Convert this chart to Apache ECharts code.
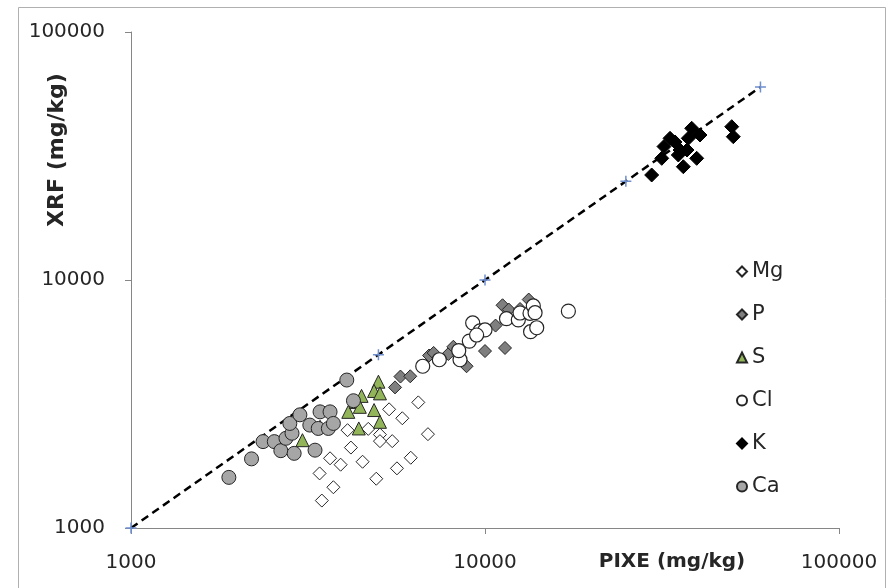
<!DOCTYPE html>
<html>
<head>
<meta charset="utf-8">
<script src="https://cdn.jsdelivr.net/npm/echarts@6/dist/echarts.min.js"></script>
<style>html,body{margin:0;padding:0;background:#fff}#c{width:893px;height:588px}</style>
</head>
<body>
<div id="c"></div>
<script>
// [PIXE, XRF] in mg/kg
const mgData = [[3460,1290],[3730,1460],[3410,1660],[3650,1910],[3910,1800],[4180,2110],[4510,1850],[4090,2480],[4680,2510],[5050,2380],[5050,2240],[5470,2240],[4930,1580],[5360,3010],[5840,2770],[5640,1740],[6170,1920],[6480,3210],[6900,2390]];
const pData = [[5570,3690],[5770,4080],[6150,4090],[6950,4960],[7160,5080],[7880,5030],[8140,5380],[8870,4490],[10000,5170],[11390,5320],[10710,6550],[11210,7910],[11670,7600],[13290,8340],[12560,7640]];
const sData = [[3050,2260],[3420,2560],[4110,2940],[4320,3220],[4480,3410],[4430,3080],[4400,2520],[4860,2990],[5050,2680],[5000,3890],[4860,3570],[5050,3490]];
const clData = [[6670,4490],[7430,4770],[8500,4770],[8430,5190],[9030,5670],[9230,6710],[9680,6230],[10000,6290],[9470,6000],[11500,6980],[12420,6900],[12560,7360],[13400,7340],[13690,7860],[13850,7380],[13450,6190],[14000,6420],[17200,7490]];
const kData = [[29570,26510],[31570,30950],[32040,34530],[33320,37270],[34420,36020],[35550,33430],[36330,28630],[37210,33430],[38360,40900],[39630,30950],[40490,38430],[49770,41510],[50280,37830],[35160,31920],[37520,37270]];
const caData = [[1890,1600],[2190,1900],[2360,2230],[2540,2230],[2650,2050],[2740,2300],[2850,2410],[2890,2000],[2810,2640],[3000,2860],[3200,2600],[3310,2060],[3420,2940],[3650,2940],[3380,2520],[3610,2520],[3730,2640],[4070,3950],[4250,3260]];
const lineData = [[1000,1000],[5000,5000],[10000,10000],[25000,25000],[60000,60000]];
const seriesNames = ['Mg','P','S','Cl','K','Ca'];
const axisMin = 1000, axisMax = 100000;

const chart = echarts.init(document.getElementById('c'));
const outline = '#262626';
const fmt = v => String(Math.round(v));
const lab = {fontFamily:'DejaVu Sans', fontSize:20, color:'#262626', formatter:fmt};
chart.setOption({
  animation:false,
  backgroundColor:'#fff',
  grid:{left:131,right:54,top:32,bottom:60,containLabel:false},
  xAxis:{type:'log',logBase:10,min:axisMin,max:axisMax,
    axisLine:{show:true,lineStyle:{color:'#868686',width:1}},
    axisTick:{show:true,inside:false,length:6,lineStyle:{color:'#868686'}},
    minorTick:{show:false},
    splitLine:{show:false},
    axisLabel:Object.assign({margin:25},lab)},
  yAxis:{type:'log',logBase:10,min:axisMin,max:axisMax,
    axisLine:{show:true,lineStyle:{color:'#868686',width:1}},
    axisTick:{show:true,inside:false,length:6,lineStyle:{color:'#868686'}},
    splitLine:{show:false},
    axisLabel:Object.assign({margin:26},lab)},
  legend:{orient:'vertical',left:731,top:256,itemWidth:10,itemHeight:10,itemGap:22,
    textStyle:{fontFamily:'DejaVu Sans',fontSize:21,color:'#262626',lineHeight:21},
    data:[{name:'Mg',icon:'diamond'},{name:'P',icon:'diamond'},{name:'S',icon:'triangle'},{name:'Cl',icon:'circle'},{name:'K',icon:'diamond'},{name:'Ca',icon:'circle'}]},
  graphic:[
    {type:'rect',shape:{x:18.5,y:7.5,width:867,height:600},style:{fill:null,stroke:'#b0b0b0',lineWidth:1},silent:true,z:-1},
    {type:'text',x:672,y:562,style:{text:'PIXE (mg/kg)',font:'bold 20px "DejaVu Sans"',fill:'#262626',textAlign:'center',textVerticalAlign:'middle'}},
    {type:'text',x:57,y:150,rotation:Math.PI/2,style:{text:'XRF (mg/kg)',font:'bold 22px "DejaVu Sans"',fill:'#262626',textAlign:'center',textVerticalAlign:'middle'}}
  ],
  series:[
    {name:'1:1',type:'line',data:lineData,z:1,
      lineStyle:{color:'#000',width:2.5,type:[8,5]},
      symbol:'path://M0,5L10,5M5,0L5,10',symbolSize:11,showSymbol:true,
      itemStyle:{color:'#6f8fcf',borderColor:'#6f8fcf',borderWidth:1.5}},
    {name:seriesNames[0],type:'scatter',data:mgData,symbol:'diamond',symbolSize:13,z:2,
      itemStyle:{color:'#fff',borderColor:outline,borderWidth:1,opacity:1}},
    {name:seriesNames[1],type:'scatter',data:pData,symbol:'diamond',symbolSize:13,z:3,
      itemStyle:{color:'#7f7f7f',borderColor:outline,borderWidth:1,opacity:1}},
    {name:seriesNames[2],type:'scatter',data:sData,symbol:'triangle',symbolSize:13,z:4,
      itemStyle:{color:'#92b55a',borderColor:outline,borderWidth:1,opacity:1}},
    {name:seriesNames[3],type:'scatter',data:clData,symbol:'circle',symbolSize:14,z:5,
      itemStyle:{color:'#fff',borderColor:outline,borderWidth:1.2,opacity:1}},
    {name:seriesNames[4],type:'scatter',data:kData,symbol:'diamond',symbolSize:14,z:6,
      itemStyle:{color:'#000',borderColor:'#000',borderWidth:1,opacity:1}},
    {name:seriesNames[5],type:'scatter',data:caData,symbol:'circle',symbolSize:14,z:7,
      itemStyle:{color:'#a6a6a6',borderColor:outline,borderWidth:1,opacity:1}}
  ]
});
</script>
</body>
</html>
